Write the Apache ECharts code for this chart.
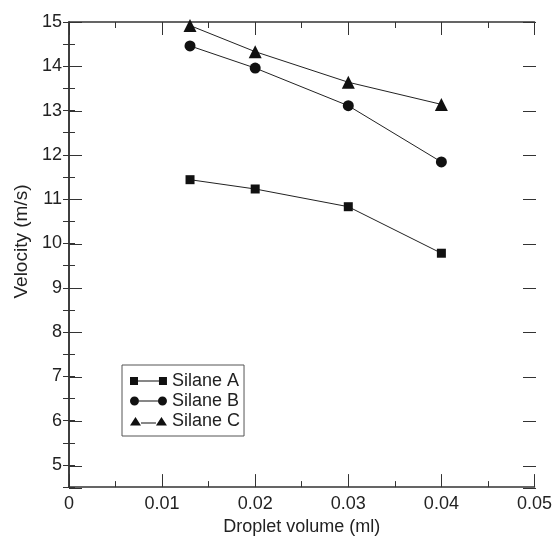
<!DOCTYPE html>
<html>
<head>
<meta charset="utf-8">
<script src="https://cdn.jsdelivr.net/npm/echarts@6/dist/echarts.min.js"></script>
<style>html,body{margin:0;padding:0;background:#fff}#c{width:555px;height:541px}</style>
</head>
<body>
<div id="c"></div>
<script>
const xValues = [0.013, 0.02, 0.03, 0.04];
const silaneA = [11.44, 11.23, 10.83, 9.78];
const silaneB = [14.46, 13.96, 13.11, 11.84];
const silaneC = [14.92, 14.33, 13.64, 13.14];
const seriesNames = ['Silane A', 'Silane B', 'Silane C'];
const xTitle = 'Droplet volume (ml)';
const yTitle = 'Velocity (m/s)';

const FONT = 'Liberation Sans, Arial, sans-serif';
const INK = '#222';
const FS = 18;
const gridRect = {left: 69, top: 22, right: 19, bottom: 53};

function pairs(ys) { return xValues.map((x, i) => [x, ys[i]]); }

const iconSquare = 'path://M0,1h8v8h-8zM8,4.5h21v1h-21zM29,1h8v8h-8zM0,0h0.01v0.01h-0.01zM0,10h0.01v0.01h-0.01z';
const iconCircle = 'path://M0,5a4.5,4.5 0 1,0 9,0a4.5,4.5 0 1,0 -9,0zM9,4.5h19v1h-19zM28,5a4.5,4.5 0 1,0 9,0a4.5,4.5 0 1,0 -9,0zM0,0h0.01v0.01h-0.01zM0,10h0.01v0.01h-0.01z';
const iconTri = 'path://M0,9.5L5.5,1L11,9.5zM11,6.5h15v1h-15zM26,9.5L31.5,1L37,9.5zM0,0h0.01v0.01h-0.01zM0,10h0.01v0.01h-0.01z';

const axisLine = {show: true, lineStyle: {color: '#333', width: 1.5}};
const minorYAxis = (pos, labels) => ({
  type: 'value', gridIndex: 0, position: pos, min: 4.5, max: 15, interval: 0.5,
  axisLine: axisLine, splitLine: {show: false},
  axisTick: {show: true, inside: true, length: 6, lineStyle: {color: '#333', width: 1}},
  axisLabel: {show: labels, margin: 7, fontSize: FS, fontFamily: FONT, color: INK,
    formatter: v => (Math.abs(v - Math.round(v)) < 1e-9 ? String(Math.round(v)) : '')},
  name: labels ? yTitle : '', nameLocation: 'middle', nameGap: 32,
  nameTextStyle: {fontSize: 19, fontFamily: FONT, color: INK, padding: [0, 0, 0, 26]}
});
const majorYAxis = (pos) => ({
  type: 'value', gridIndex: 1, position: pos, min: 4.5, max: 15, splitNumber: 10,
  axisLine: {show: false}, splitLine: {show: false}, axisLabel: {show: false},
  axisTick: {show: true, inside: true, length: 13, lineStyle: {color: '#333', width: 1}}
});
const xAxisDef = (pos, labels, grid) => ({
  type: 'value', gridIndex: grid, position: pos, min: 0, max: 0.05, interval: 0.01,
  show: grid === 0,
  axisLine: axisLine, splitLine: {show: false},
  axisTick: {show: true, inside: true, length: 13, lineStyle: {color: '#333', width: 1}},
  minorTick: {show: true, splitNumber: 2, length: 6, lineStyle: {color: '#333', width: 1}},
  axisLabel: {show: labels, margin: 8, fontSize: FS, fontFamily: FONT, color: INK,
    formatter: v => (v === 0 ? '0' : v.toFixed(2))},
  name: labels ? xTitle : '', nameLocation: 'middle', nameGap: 25,
  nameTextStyle: {fontSize: FS, fontFamily: FONT, color: INK}
});

const mk = (name, data, symbol, size) => ({
  name, type: 'line', xAxisIndex: 0, yAxisIndex: 0, data: pairs(data),
  symbol, symbolSize: size, showSymbol: true,
  lineStyle: {color: '#222', width: 1},
  itemStyle: {color: '#111', borderWidth: 0},
  emphasis: {disabled: true}, animation: false, z: 3
});

const chart = echarts.init(document.getElementById('c'), null, {renderer: 'canvas'});
chart.setOption({
  animation: false,
  backgroundColor: '#fff',
  grid: [Object.assign({}, gridRect), Object.assign({}, gridRect)],
  xAxis: [xAxisDef('bottom', true, 0), xAxisDef('top', false, 0), xAxisDef('bottom', false, 1)],
  yAxis: [minorYAxis('left', true), minorYAxis('right', false), majorYAxis('left'), majorYAxis('right')],
  legend: {
    orient: 'vertical', left: 122, top: 365,
    padding: [7, 4, 6, 8], itemGap: 2, itemWidth: 37, itemHeight: 10,
    borderColor: '#555', borderWidth: 1, backgroundColor: '#fff',
    textStyle: {fontSize: FS, fontFamily: FONT, color: INK},
    selectedMode: false,
    data: [
      {name: seriesNames[0], icon: iconSquare},
      {name: seriesNames[1], icon: iconCircle},
      {name: seriesNames[2], icon: iconTri}
    ]
  },
  series: [
    mk(seriesNames[0], silaneA, 'rect', 9),
    mk(seriesNames[1], silaneB, 'circle', 11),
    mk(seriesNames[2], silaneC, 'triangle', 13)
  ]
});
</script>
</body>
</html>
